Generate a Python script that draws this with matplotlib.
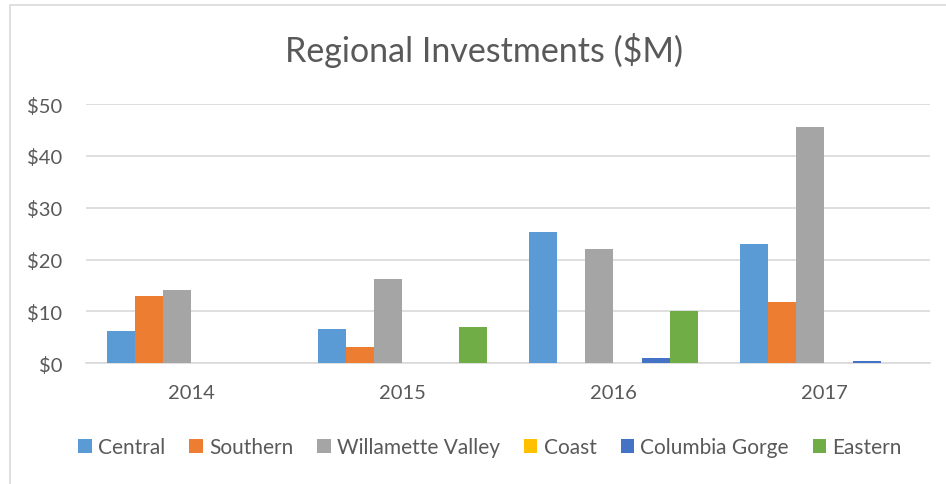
import numpy as np
import matplotlib
matplotlib.use("Agg")
import matplotlib.pyplot as plt
from matplotlib.lines import Line2D

plt.rcParams['font.family'] = ['Lato', 'DejaVu Sans']

# data ($M)
years = ["2014", "2015", "2016", "2017"]
regions = ["Central", "Southern", "Willamette Valley", "Coast", "Columbia Gorge", "Eastern"]
central = [6.3, 6.6, 25.3, 23.0]
southern = [13.0, 3.1, 0.0, 11.9]
willamette = [14.2, 16.3, 22.1, 45.5]
coast = [0.0, 0.0, 0.0, 0.0]
columbia_gorge = [0.0, 0.0, 1.0, 0.5]
eastern = [0.0, 7.0, 10.0, 0.0]

series = [central, southern, willamette, coast, columbia_gorge, eastern]
colors = ["#5B9BD5", "#ED7D31", "#A5A5A5", "#FFC000", "#4472C4", "#70AD47"]
text_col = "#595959"
grid_col = "#D9D9D9"

fig = plt.figure(figsize=(9.46, 4.85), dpi=100)
ax = fig.add_axes([0.0909, 0.249, 0.892, 0.5345])

x = np.arange(len(years))
w = 0.134
n = len(series)
for i, (vals, name, c) in enumerate(zip(series, regions, colors)):
    offs = (i - (n - 1) / 2) * w
    ax.bar(x + offs, vals, width=w, color=c, label=name, zorder=3)

ax.set_xlim(-0.5, len(years) - 0.5)
ax.set_ylim(0, 50)
ax.set_yticks(range(0, 51, 10))
ax.set_yticklabels([f"${v}" for v in range(0, 51, 10)])
ax.set_xticks(x)
ax.set_xticklabels(years)
ax.tick_params(length=0, labelsize=14.5, colors=text_col)
ax.tick_params(axis="x", pad=15)
ax.tick_params(axis="y", pad=17)
ax.grid(axis="y", color=grid_col, linewidth=1.2, zorder=0)
for s in ["top", "right", "left"]:
    ax.spines[s].set_visible(False)
ax.spines["bottom"].set_color(grid_col)
ax.spines["bottom"].set_linewidth(1.2)

fig.text(0.512, 0.872, "Regional Investments ($M)", ha="center", va="baseline",
         fontsize=24.5, color=text_col)

leg = fig.legend(loc="center", bbox_to_anchor=(0.518, 0.076), ncol=6, frameon=False,
                 fontsize=15, handlelength=0.65, handleheight=0.65,
                 handletextpad=0.3, columnspacing=1.15)
for t in leg.get_texts():
    t.set_color(text_col)

# chart border (only left and top edges show in the crop)
fig.add_artist(Line2D([0.0105, 0.0105, 1.0], [0.0, 0.988, 0.988], transform=fig.transFigure,
                      color=grid_col, linewidth=1.2))

fig.savefig("out.png", dpi=100)
